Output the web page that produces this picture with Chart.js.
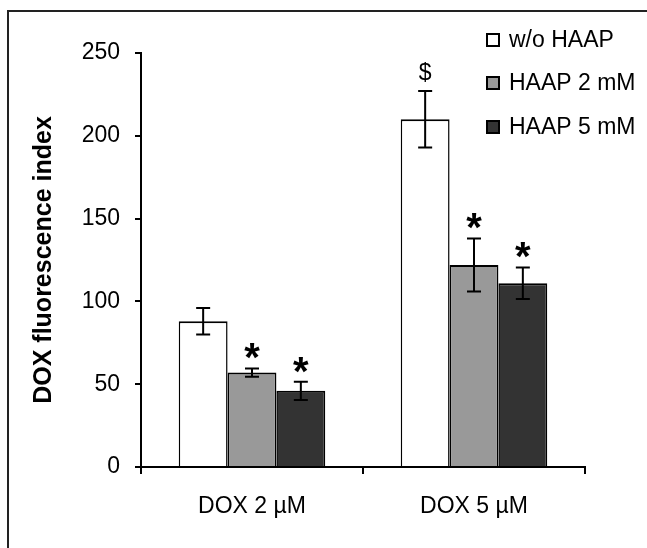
<!DOCTYPE html>
<html>
<head>
<meta charset="utf-8">
<script src="https://cdn.jsdelivr.net/npm/chart.js@4"></script>
<style>
html,body{margin:0;padding:0;background:#fff;}
canvas{display:block;}
</style>
</head>
<body>
<canvas id="c" width="647" height="548"></canvas>
<script>
const categories = ['DOX 2 µM', 'DOX 5 µM'];
const seriesNames = ['w/o HAAP', 'HAAP 2 mM', 'HAAP 5 mM'];
const woHAAP = [88, 210];
const haap2 = [57, 122];
const haap5 = [46, 111];
const errWo = [8, 17];
const err2 = [2.5, 16];
const err5 = [5.5, 9.5];
const marksWo = ['', '$'];
const marks2 = ['*', '*'];
const marks5 = ['*', '*'];
const yTicks = [0, 50, 100, 150, 200, 250];

const colors = ['#ffffff', '#999999', '#333333'];
const FONT = "'Liberation Sans', Arial, sans-serif";

const errorSets = [errWo, err2, err5];
const markSets = [marksWo, marks2, marks5];

const framePlugin = {
  id: 'frame',
  beforeDraw(chart) {
    const ctx = chart.ctx;
    ctx.save();
    ctx.fillStyle = '#fff';
    ctx.fillRect(0, 0, chart.width, chart.height);
    ctx.strokeStyle = '#222';
    ctx.lineWidth = 2;
    ctx.beginPath();
    ctx.moveTo(8, chart.height);
    ctx.lineTo(8, 11);
    ctx.lineTo(chart.width, 11);
    ctx.stroke();
    ctx.restore();
  }
};

const errorPlugin = {
  id: 'errbars',
  afterDatasetsDraw(chart) {
    const ctx = chart.ctx;
    const y = chart.scales.y;
    ctx.save();
    chart.data.datasets.forEach((ds, i) => {
      const meta = chart.getDatasetMeta(i);
      meta.data.forEach((el, j) => {
        const v = ds.data[j];
        const e = errorSets[i][j];
        const yt = y.getPixelForValue(v + e);
        const yb = y.getPixelForValue(v - e);
        const x = el.x;
        ctx.strokeStyle = '#000';
        ctx.lineWidth = 2;
        ctx.beginPath();
        ctx.moveTo(x, yt); ctx.lineTo(x, yb);
        ctx.moveTo(x - 7, yt); ctx.lineTo(x + 7, yt);
        ctx.moveTo(x - 7, yb); ctx.lineTo(x + 7, yb);
        ctx.stroke();
        const m = markSets[i][j];
        if (m) {
          ctx.fillStyle = '#000';
          ctx.textAlign = 'center';
          ctx.textBaseline = 'alphabetic';
          const yc = yt - 19;
          if (m === '*') {
            ctx.font = 'bold 40px ' + FONT;
            ctx.fillText(m, x, yc + 22);
          } else {
            ctx.font = '23px ' + FONT;
            ctx.fillText(m, x, yc + 8);
          }
        }
      });
    });
    ctx.restore();
  }
};

const legendPlugin = {
  id: 'customLegend',
  afterDraw(chart) {
    const ctx = chart.ctx;
    ctx.save();
    const rows = [40, 83, 127];
    chart.data.datasets.forEach((ds, i) => {
      const cy = rows[i];
      ctx.fillStyle = ds.backgroundColor;
      ctx.fillRect(487, cy - 6, 12, 12);
      ctx.strokeStyle = '#000';
      ctx.lineWidth = 2;
      ctx.strokeRect(487, cy - 6, 12, 12);
      ctx.fillStyle = '#000';
      ctx.font = '23px ' + FONT;
      ctx.textAlign = 'left';
      ctx.textBaseline = 'middle';
      ctx.fillText(ds.label, 509, cy + 1);
    });
    ctx.restore();
  }
};

const datasets = [woHAAP, haap2, haap5].map((d, i) => ({
  label: seriesNames[i],
  data: d,
  backgroundColor: colors[i],
  borderColor: '#000',
  borderWidth: {top: 2, left: 1.5, right: 1.5, bottom: 0},
  borderSkipped: false,
  categoryPercentage: 0.66,
  barPercentage: 1.0
}));

new Chart(document.getElementById('c'), {
  type: 'bar',
  data: { labels: categories, datasets },
  options: {
    responsive: false,
    animation: false,
    devicePixelRatio: 1,
    layout: { padding: { top: 53, right: 62, bottom: 0, left: 0 } },
    plugins: { legend: { display: false }, tooltip: { enabled: false } },
    scales: {
      x: {
        offset: true,
        grid: { offset: true, drawOnChartArea: false, drawTicks: true, tickLength: 7, color: '#000', lineWidth: 2 },
        border: { display: true, color: '#000', width: 2 },
        ticks: { color: '#000', font: { family: FONT, size: 23 }, padding: 19 },
        afterFit(scale) { scale.height = 81; }
      },
      y: {
        min: 0, max: 250,
        afterBuildTicks(scale) { scale.ticks = yTicks.map(v => ({ value: v })); },
        grid: { drawOnChartArea: false, drawTicks: true, tickLength: 6, color: '#000', lineWidth: 2 },
        border: { display: true, color: '#000', width: 2 },
        ticks: { color: '#000', font: { family: FONT, size: 23 }, padding: 15 },
        title: { display: true, text: 'DOX fluorescence index', color: '#000',
                 font: { family: FONT, size: 25, weight: 'bold' }, padding: { top: 29, bottom: 0 } },
        afterFit(scale) { scale.width = 141; }
      }
    }
  },
  plugins: [framePlugin, errorPlugin, legendPlugin]
});
</script>
</body>
</html>
